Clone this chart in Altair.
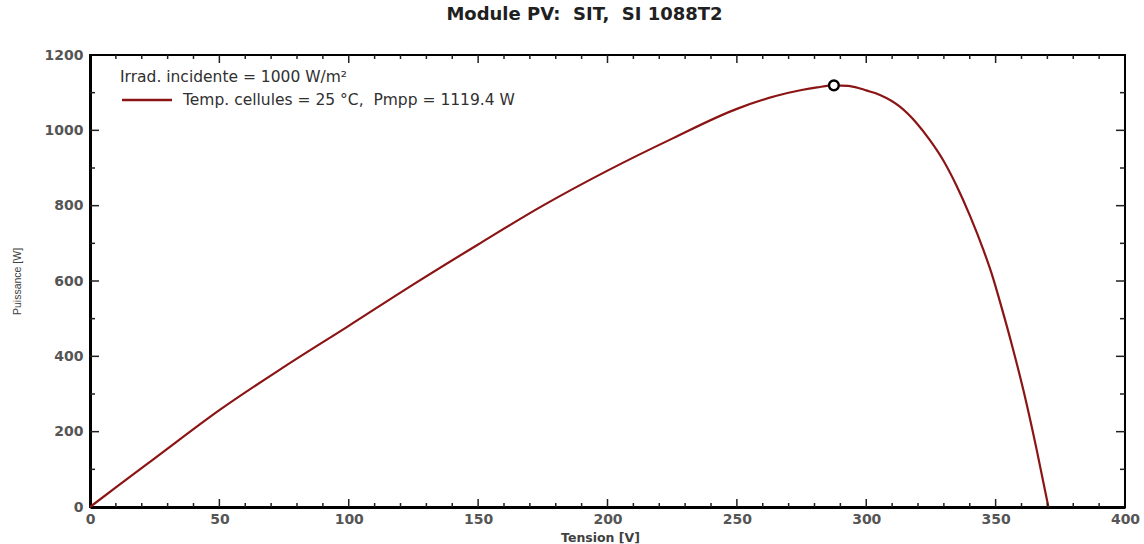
import altair as alt
import pandas as pd

# ---- data ----
TENSION = [0, 10, 25, 50, 75, 100, 125, 150, 175, 200, 225, 250, 265, 275, 281,
           287.5, 293, 297.6, 300, 305.3, 313, 319.5, 324.6, 329.8, 334.9, 340.1,
           345.2, 348.5, 352.3, 356.5, 360.7, 365.9, 370.4]
PUISSANCE = [0, 52, 129, 257, 372, 481, 591, 697, 800, 893, 978, 1057, 1091, 1107, 1114,
             1119.4, 1118, 1111, 1106, 1094, 1063, 1019, 974, 920, 853, 773,
             684, 619, 530, 425, 311, 151, 0]
PMPP_V = [287.5]
PMPP_P = [1119.4]

X_MAJOR = [0, 50, 100, 150, 200, 250, 300, 350, 400]
X_MINOR = [10, 20, 30, 40, 60, 70, 80, 90, 110, 120, 130, 140, 160, 170, 180, 190,
           210, 220, 230, 240, 260, 270, 280, 290, 310, 320, 330, 340, 360, 370, 380, 390]
Y_MAJOR = [0, 200, 400, 600, 800, 1000, 1200]
Y_MINOR = [100, 300, 500, 700, 900, 1100]

NB = "\u00a0"
TITLE = f"Module PV:{NB}{NB}SIT,{NB}{NB}SI 1088T2"
X_TITLE = "Tension [V]"
Y_TITLE = "Puissance [W]"
LEGEND_1 = ["Irrad. incidente = 1000 W/m²"]
LEGEND_2 = [f"Temp. cellules = 25 °C,{NB}{NB}Pmpp = 1119.4 W"]

W, H = 1035, 452
CURVE_COLOR = "#8b1414"
FONT = "DejaVu Sans"

curve_df = pd.DataFrame({"V": TENSION, "P": PUISSANCE})
peak_df = pd.DataFrame({"V": PMPP_V, "P": PMPP_P})

xscale = alt.Scale(domain=[0, 400], nice=False, zero=False)
yscale = alt.Scale(domain=[0, 1200], nice=False, zero=False)

curve = alt.Chart(curve_df).mark_line(color=CURVE_COLOR, strokeWidth=2.2,
                                      interpolate="monotone").encode(
    x=alt.X("V:Q", scale=xscale,
            axis=alt.Axis(values=X_MAJOR, title=X_TITLE, ticks=False, grid=False,
                          format="d",
                          domainColor="black", domainWidth=3, labelFlush=False,
                          labelPadding=5, labelFont=FONT, labelFontSize=14,
                          labelFontWeight="bold", labelColor="#555555",
                          titleFont=FONT, titleFontSize=12.5, titleFontWeight="bold",
                          titleColor="#404040", titleX=510, titleY=34,
                          titleBaseline="alphabetic", titleAnchor="middle")),
    y=alt.Y("P:Q", scale=yscale,
            axis=alt.Axis(values=Y_MAJOR, title=Y_TITLE, ticks=False, grid=False,
                          format="d",
                          domainColor="black", domainWidth=3, labelFlush=False,
                          labelPadding=7, labelFont=FONT, labelFontSize=14,
                          labelFontWeight="bold", labelColor="#555555",
                          titleFont="Liberation Sans", titleFontSize=10.5,
                          titleFontWeight="normal", titleColor="#404040",
                          titleX=-68, titleY=226, titleAngle=270)),
)

peak = alt.Chart(peak_df).mark_point(shape="circle", filled=True, fill="white",
                                     stroke="black", strokeWidth=2.4, size=95,
                                     opacity=1).encode(
    x=alt.X("V:Q", scale=xscale),
    y=alt.Y("P:Q", scale=yscale),
)


def xticks(values, length):
    df = pd.DataFrame({"V": values})
    base = alt.Chart(df).mark_rule(color="#202020", strokeWidth=1.5)
    bottom = base.encode(x=alt.X("V:Q", scale=xscale),
                         y=alt.value(H), y2=alt.value(H - length))
    top = base.encode(x=alt.X("V:Q", scale=xscale),
                      y=alt.value(0), y2=alt.value(length))
    return [bottom, top]


def yticks(values, length):
    df = pd.DataFrame({"P": values})
    base = alt.Chart(df).mark_rule(color="#202020", strokeWidth=1.5)
    left = base.encode(y=alt.Y("P:Q", scale=yscale),
                       x=alt.value(0), x2=alt.value(length))
    right = base.encode(y=alt.Y("P:Q", scale=yscale),
                        x=alt.value(W), x2=alt.value(W - length))
    return [left, right]


ticks = (xticks(X_MAJOR[1:-1], 8) + xticks(X_MINOR, 4)
         + yticks(Y_MAJOR[1:-1], 9) + yticks(Y_MINOR, 5))

leg1 = alt.Chart(pd.DataFrame({"t": LEGEND_1})).mark_text(
    align="left", baseline="middle", font=FONT, fontSize=15.5, color="#303030"
).encode(x=alt.value(30), y=alt.value(22), text="t:N")

leg2 = alt.Chart(pd.DataFrame({"t": LEGEND_2})).mark_text(
    align="left", baseline="middle", font=FONT, fontSize=15.5, color="#303030"
).encode(x=alt.value(93), y=alt.value(45), text="t:N")

leg_line = alt.Chart(pd.DataFrame({"t": LEGEND_2})).mark_rule(
    color=CURVE_COLOR, strokeWidth=2.5
).encode(x=alt.value(32), x2=alt.value(82), y=alt.value(45))

chart = alt.layer(curve, *ticks, leg_line, leg1, leg2, peak).properties(
    width=W, height=H,
    background="white",
    title=alt.TitleParams(TITLE, font=FONT, fontSize=18, fontWeight="bold",
                          color="#202020", anchor="middle", dx=-23, offset=24),
    autosize=alt.AutoSizeParams(type="none"),
    padding={"left": 90, "top": 55, "right": 19, "bottom": 37},
).configure_view(stroke="black", strokeWidth=2)

chart.save("out.html", embed_options={"renderer": "svg", "actions": False})
